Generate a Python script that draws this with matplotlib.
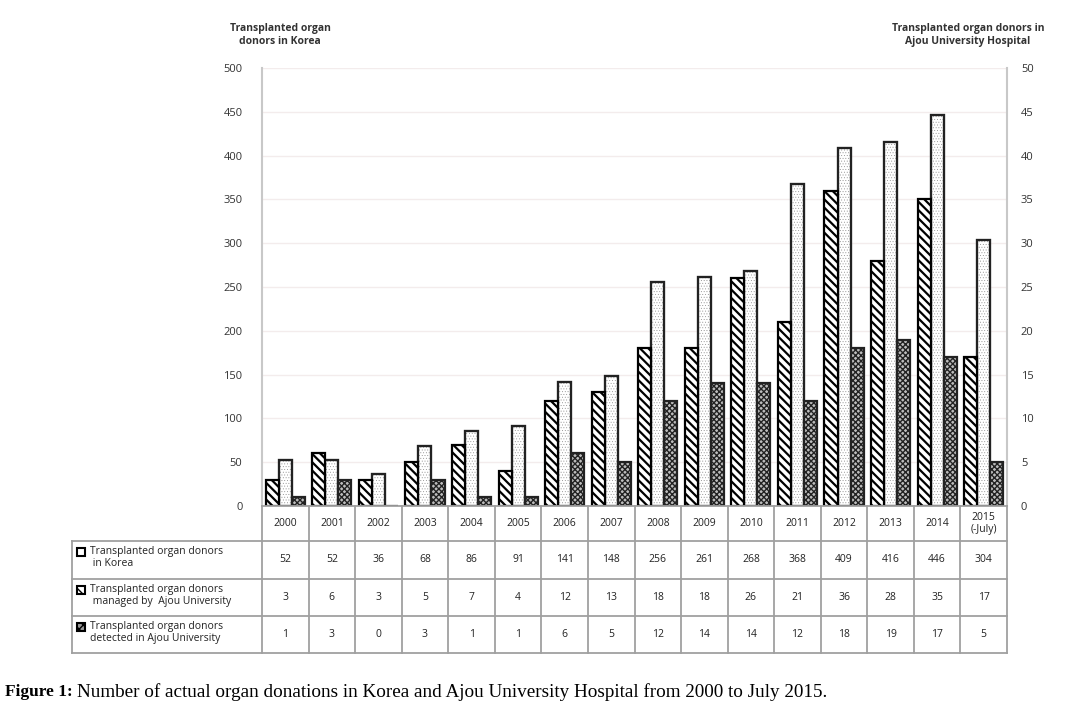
import matplotlib
matplotlib.use("Agg")
import matplotlib.pyplot as plt
import matplotlib as mpl
from matplotlib.patches import Rectangle
import numpy as np

years = ["2000", "2001", "2002", "2003", "2004", "2005", "2006", "2007",
         "2008", "2009", "2010", "2011", "2012", "2013", "2014", "2015\n(-July)"]
korea = [52, 52, 36, 68, 86, 91, 141, 148, 256, 261, 268, 368, 409, 416, 446, 304]
ajou_managed = [3, 6, 3, 5, 7, 4, 12, 13, 18, 18, 26, 21, 36, 28, 35, 17]
ajou_detected = [1, 3, 0, 3, 1, 1, 6, 5, 12, 14, 14, 12, 18, 19, 17, 5]
row_labels = ["Transplanted organ donors\n in Korea",
              "Transplanted organ donors\n managed by  Ajou University",
              "Transplanted organ donors\ndetected in Ajou University"]
left_ticks = [0, 50, 100, 150, 200, 250, 300, 350, 400, 450, 500]
right_ticks = [0, 5, 10, 15, 20, 25, 30, 35, 40, 45, 50]

mpl.rcParams['font.family'] = ['Open Sans', 'DejaVu Sans']

W, H = 1077, 719
fig = plt.figure(figsize=(W / 100, H / 100), dpi=100)

L, R, T, B = 262, 1007, 68, 506
ax = fig.add_axes([L / W, 1 - B / H, (R - L) / W, (B - T) / H])
ax2 = ax.twinx()

n = len(years)
x = np.arange(n)
bw = 0.28
grid_c = '#f3ecec'

ax.set_xlim(-0.5, n - 0.5)
ax.set_ylim(0, 500)
ax2.set_ylim(0, 50)
ax.set_yticks(left_ticks)
ax2.set_yticks(right_ticks)
ax.yaxis.grid(True, color=grid_c, lw=1.0)
ax.set_axisbelow(True)
ax.set_xticks([])
for a in (ax, ax2):
    for s in a.spines.values():
        s.set_visible(False)
ax.spines['left'].set_visible(True)
ax.spines['left'].set_color('#c8c8c8')
ax.spines['left'].set_linewidth(1.5)
ax2.spines['right'].set_visible(True)
ax2.spines['right'].set_color('#c8c8c8')
ax2.spines['right'].set_linewidth(1.5)
ax.tick_params(axis='y', length=0, pad=14, labelsize=8, colors='#333333')
ax2.tick_params(axis='y', length=0, pad=10, labelsize=8, colors='#333333')

mpl.rcParams['hatch.linewidth'] = 1.6
mpl.rcParams['hatch.color'] = 'black'
ax2.bar(x - bw, ajou_managed, bw, facecolor='white', edgecolor='black',
        hatch='\\\\\\\\', linewidth=1.6, zorder=3)
mpl.rcParams['hatch.linewidth'] = 0.3
mpl.rcParams['hatch.color'] = '#8a8a8a'
ax.bar(x, korea, bw, facecolor='white', edgecolor='#8a8a8a',
       hatch='.' * 6, linewidth=1.6, zorder=3)
ax.bar(x, korea, bw, facecolor='none', edgecolor='#222222', linewidth=1.6, zorder=3.1)
mpl.rcParams['hatch.linewidth'] = 1.0
mpl.rcParams['hatch.color'] = 'black'
ax2.bar(x + bw, ajou_detected, bw, facecolor='#bdbdbd', edgecolor='#222222',
        hatch='xxxxxx', linewidth=1.6, zorder=3)

# axis titles
fig.text(280 / W, 1 - 35 / H, "Transplanted organ\ndonors in Korea", ha='center',
         va='center', fontsize=7.5, fontweight='bold', color='#333333', linespacing=1.3)
fig.text(968 / W, 1 - 35 / H, "Transplanted organ donors in\nAjou University Hospital",
         ha='center', va='center', fontsize=7.5, fontweight='bold', color='#333333',
         linespacing=1.3)

# table
TL, TB = 72, 653
tax = fig.add_axes([TL / W, 1 - TB / H, (R - TL) / W, (TB - B) / H])
unit = (R - L) / n
x0 = -0.5 - (L - TL) / unit
tax.set_xlim(x0, n - 0.5)
tax.set_ylim(TB, B)
tax.axis('off')
row_y = [506, 541, 579, 616, 653]
lc = '#a0a0a0'
lw = 1.3
tax.plot([-0.5, n - 0.5], [row_y[0], row_y[0]], color=lc, lw=lw, clip_on=False)
for yy in row_y[1:]:
    tax.plot([x0, n - 0.5], [yy, yy], color=lc, lw=lw, clip_on=False)
for i in range(n + 1):
    tax.plot([i - 0.5, i - 0.5], [row_y[0], row_y[-1]], color=lc, lw=lw, clip_on=False)
tax.plot([x0, x0], [row_y[1], row_y[-1]], color=lc, lw=lw, clip_on=False)

for i, yl in enumerate(years):
    tax.text(i, (row_y[0] + row_y[1]) / 2, yl, ha='center', va='center',
             fontsize=7.5, color='#222222', linespacing=1.2)
data_rows = [korea, ajou_managed, ajou_detected]
for r, vals in enumerate(data_rows):
    yc = (row_y[r + 1] + row_y[r + 2]) / 2
    for i, v in enumerate(vals):
        tax.text(i, yc, str(v), ha='center', va='center', fontsize=7.5, color='#222222')
    tax.text(x0 + 18 / unit, row_y[r + 1] + 5, row_labels[r], ha='left', va='top',
             fontsize=7.5, color='#222222', linespacing=1.15)
icon_styles = [dict(facecolor='white', hatch=None),
               dict(facecolor='white', hatch='\\\\\\'),
               dict(facecolor='#999999', hatch='xxxx')]
for r, st in enumerate(icon_styles):
    ytop = row_y[r + 1] + 7
    rect = Rectangle((x0 + 5 / unit, ytop + 8), 8 / unit, -8, edgecolor='black',
                     linewidth=1.5, clip_on=False, **st)
    tax.add_patch(rect)

# caption
renderer = fig.canvas.get_renderer()
t1 = fig.text(5 / W, 1 - 692 / H, "Figure 1:", fontsize=12.5, fontweight='bold',
              family='Liberation Serif', va='center', ha='left')
bb = t1.get_window_extent(renderer)
fig.text((bb.x1 + 4) / W, 1 - 692 / H,
         "Number of actual organ donations in Korea and Ajou University Hospital from 2000 to July 2015.",
         fontsize=13.8, family='Liberation Serif', va='center', ha='left')

fig.savefig("out.png", dpi=100)
